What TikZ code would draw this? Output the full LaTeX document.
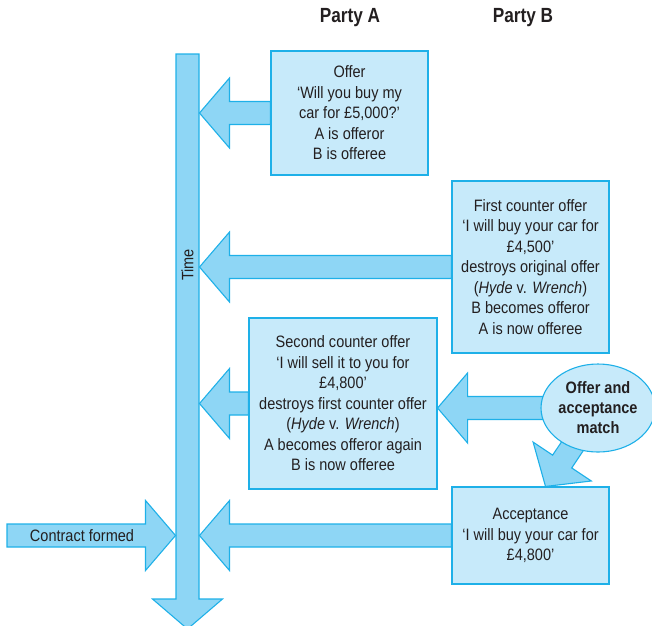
\documentclass[tikz,border=0pt]{standalone}
\usepackage{fontspec}
\setmainfont{Liberation Sans}[FakeStretch=0.88]
\newfontfamily\headfamily{Liberation Sans}[FakeStretch=0.84]
\usetikzlibrary{calc,shapes.geometric}

\definecolor{boxfill}{RGB}{199,234,250}
\definecolor{arrowfill}{RGB}{142,214,245}
\definecolor{edgeblue}{RGB}{30,176,232}
\definecolor{ink}{RGB}{35,31,32}

\newcommand\bodyfont{\fontsize{16.5}{20.5}\selectfont}
\newcommand\headfont{\headfamily\fontsize{20.5}{23}\selectfont\bfseries}

\tikzset{
  stage/.style={draw=edgeblue, fill=boxfill, line width=1.1pt, align=center,
    inner sep=0pt, text=ink, font=\bodyfont},
  bigarrow/.style={draw=edgeblue, fill=arrowfill, line width=1.1pt, line join=miter},
  heading/.style={text=ink, font=\headfont},
  plain/.style={text=ink, font=\bodyfont, inner sep=0pt}
}

% block arrow from tail point #1 to tip point #2
\newcommand\flowarrow[2]{%
  \coordinate (fa-h) at ($(#2)!30pt!(#1)$);
  \draw[bigarrow]
    ($(#1)!11.5pt!90:(#2)$)
    -- ($(fa-h)!11.5pt!90:(#2)$)
    -- ($(fa-h)!35pt!90:(#2)$)
    -- (#2)
    -- ($(fa-h)!35pt!-90:(#2)$)
    -- ($(fa-h)!11.5pt!-90:(#2)$)
    -- ($(#1)!11.5pt!-90:(#2)$)
    -- cycle;}

\begin{document}
\begin{tikzpicture}[x=1pt,y=-1pt]
\useasboundingbox (0,0) rectangle (652,625);

% headings
\node[heading] (partyA) at (350,18) {Party A};
\node[heading] (partyB) at (523,18) {Party B};

% time axis
\coordinate (timetop) at (187.5,54);
\coordinate (timetip) at (187.5,629);
\flowarrow{timetop}{timetip}
\node[plain, rotate=90] (time) at (187.5,265) {Time};
\coordinate (timeright) at (199.5,0);
\coordinate (timeleft) at (175.5,0);

% stages
\node[stage, minimum width=157pt, minimum height=124pt] (offer) at (349.5,113)
  {Offer\\‘Will you buy my\\car for £5,000?’\\A is offeror\\B is offeree};
\node[stage, minimum width=157pt, minimum height=172pt] (first) at (530.5,267)
  {First counter offer\\‘I will buy your car for\\£4,500’\\destroys original offer\\(\textit{Hyde} v. \textit{Wrench})\\B becomes offeror\\A is now offeree};
\node[stage, minimum width=188pt, minimum height=171pt] (second) at (343,403.5)
  {Second counter offer\\‘I will sell it to you for\\£4,800’\\destroys first counter offer\\(\textit{Hyde} v. \textit{Wrench})\\A becomes offeror again\\B is now offeree};
\node[stage, minimum width=157pt, minimum height=97pt] (accept) at (530.5,535.5)
  {Acceptance\\‘I will buy your car for\\£4,800’};

% arrows into the time axis
\coordinate (offertip) at (timeright |- offer.west);
\flowarrow{offer.west}{offertip}
\coordinate (firsttip) at (timeright |- first.west);
\flowarrow{first.west}{firsttip}
\coordinate (secondtip) at (timeright |- second.west);
\flowarrow{second.west}{secondtip}
\coordinate (accepttip) at (timeright |- accept.west);
\flowarrow{accept.west}{accepttip}

% contract formed
\coordinate (contractstart) at (7,535.5);
\coordinate (contracttip) at (timeleft |- contractstart);
\flowarrow{contractstart}{contracttip}
\node[plain] (contract) at (82,535.5) {Contract formed};

% offer and acceptance match
\coordinate (matchc) at (598,408);
\coordinate (matchtosecond) at (second.east |- matchc);
\flowarrow{matchc}{matchtosecond}
\coordinate (matchtoaccept) at ($(accept.north)+(15,0)$);
\flowarrow{matchc}{matchtoaccept}
\node[ellipse, draw=edgeblue, fill=boxfill, line width=1.1pt, minimum width=114pt,
  minimum height=88pt, inner sep=0pt, align=center, text=ink,
  font={\fontsize{16.5}{20}\selectfont\bfseries}] (match) at (matchc)
  {Offer and\\acceptance\\match};
\end{tikzpicture}
\end{document}
